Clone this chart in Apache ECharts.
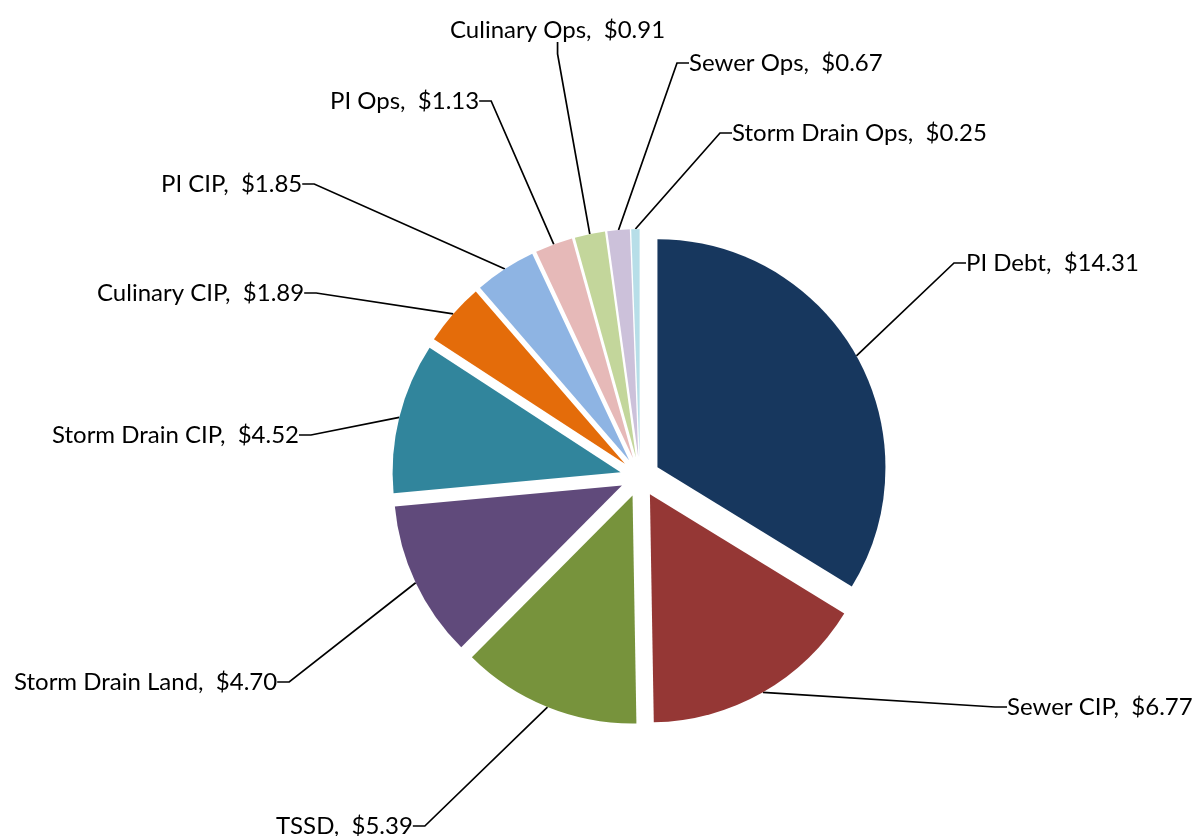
<!DOCTYPE html>
<html>
<head>
<meta charset="utf-8">
<title>Budget pie</title>
<script src="https://cdn.jsdelivr.net/npm/echarts@6/dist/echarts.min.js"></script>
<style>
  html, body { margin: 0; padding: 0; background: #fff; }
  #chart { width: 1201px; height: 836px; }
</style>
</head>
<body>
<div id="chart"></div>
<script>
// slices, clockwise from 12 o'clock
const categories = ['PI Debt', 'Sewer CIP', 'TSSD', 'Storm Drain Land', 'Storm Drain CIP',
  'Culinary CIP', 'PI CIP', 'PI Ops', 'Culinary Ops', 'Sewer Ops', 'Storm Drain Ops'];
const amounts = [14.31, 6.77, 5.39, 4.70, 4.52, 1.89, 1.85, 1.13, 0.91, 0.67, 0.25];
const sliceColors = ['#17375E', '#953735', '#77933C', '#604A7B', '#31859C',
  '#E46C0A', '#8EB4E3', '#E6B9B8', '#C3D69B', '#CCC1DA', '#B7DEE8'];

// label placement: left edge of the text, height where the leader line meets it
const labelSpots = [
  [966, 263], [1007, 707], [276, 826], [14, 682], [52, 435],
  [97, 293], [161, 184], [330, 101], [450, 30], [689, 63], [732, 133]
];

const PIE_CENTER = [640, 477];
const PIE_R = 228;
const EXPLODE = 20;

const chart = echarts.init(document.getElementById('chart'));

// visible, exploded slices
const sliceData = categories.map((name, i) => ({
  name: name,
  value: amounts[i],
  selected: true,
  itemStyle: { color: sliceColors[i] }
}));

// same slices, no fill, only used to carry the labels
// (radius = exploded outer edge so the leader lines start on the arc)
const labelData = categories.map((name, i) => ({
  name: name,
  value: amounts[i]
}));

chart.setOption({
  animation: false,
  series: [{
    type: 'pie',
    center: PIE_CENTER,
    radius: PIE_R,
    startAngle: 90,
    clockwise: true,
    selectedMode: 'multiple',
    selectedOffset: EXPLODE,
    avoidLabelOverlap: false,
    itemStyle: { borderWidth: 0 },
    emphasis: { disabled: true },
    label: { show: false },
    labelLine: { show: false },
    data: sliceData
  }, {
    type: 'pie',
    silent: true,
    center: PIE_CENTER,
    radius: PIE_R + EXPLODE,
    startAngle: 90,
    clockwise: true,
    avoidLabelOverlap: false,
    itemStyle: { color: 'rgba(0,0,0,0)', borderWidth: 0 },
    emphasis: { disabled: true },
    label: {
      show: true,
      position: 'outside',
      color: '#000',
      fontFamily: 'Lato',
      fontSize: 24,
      padding: [0, 4, 22, 4],
      formatter: p => p.name + ',  $' + p.value.toFixed(2)
    },
    labelLine: {
      show: true,
      length: 20,
      length2: 12,
      lineStyle: { color: '#000', width: 1.7 }
    },
    labelLayout: p => ({
      x: labelSpots[p.dataIndex][0] - 4,
      y: labelSpots[p.dataIndex][1],
      align: 'left',
      verticalAlign: 'middle'
    }),
    data: labelData
  }]
});
</script>
</body>
</html>
